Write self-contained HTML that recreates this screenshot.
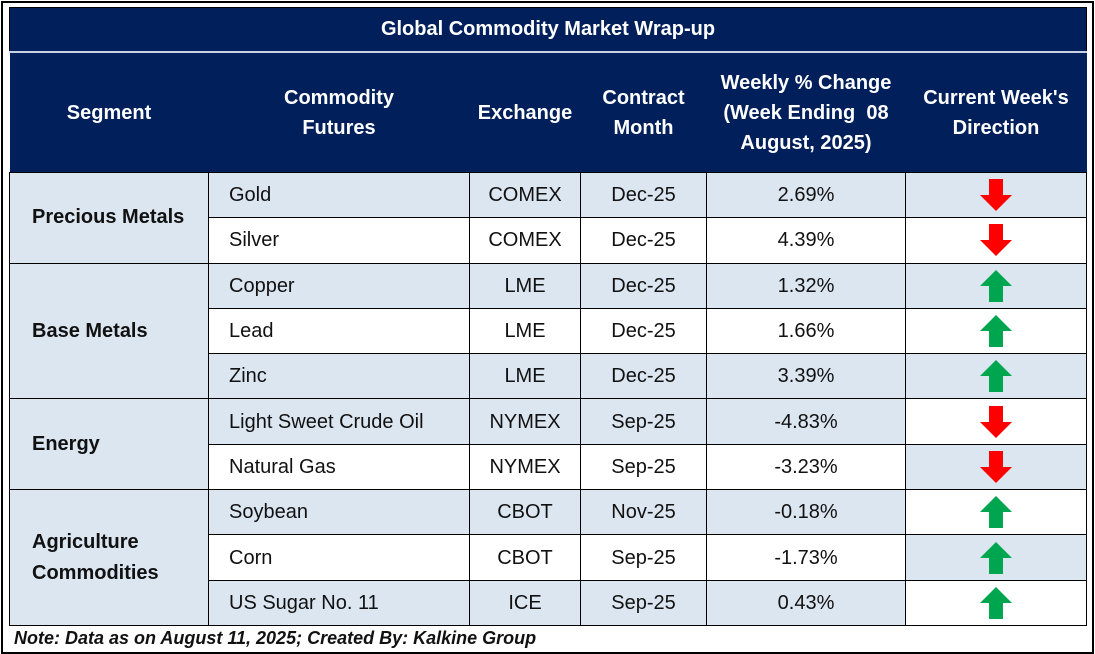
<!DOCTYPE html>
<html><head><style>
body{margin:0;width:1095px;height:654px;background:#fff;font-family:"Liberation Sans",sans-serif;position:relative;overflow:hidden}
.frame{position:absolute;left:1px;top:1px;width:1089px;height:649px;border:2px solid #000}
table{position:absolute;left:9px;top:7px;border-collapse:collapse;table-layout:fixed}
td{border:1.5px solid #000;font-size:20px;color:#111;text-align:center;padding:0;white-space:nowrap}
.t{background:#001f5b;color:#fff;font-weight:bold;height:43px;border-bottom:2px solid #c9d3e6;font-size:20px}
.h td{background:#001f5b;color:#fff;font-weight:bold;height:119px;line-height:30px;border:none}
.L{background:#dce6f1}.W{background:#fff}
.seg{background:#dce6f1;font-weight:bold;text-align:left;padding-left:22px;font-size:20px;line-height:31px}
.c{text-align:left;padding-left:20px}
tr.r td{height:44.3px;line-height:20px}
svg{vertical-align:middle}
.note{position:absolute;left:14px;top:628px;font-style:italic;font-weight:bold;font-size:18px;color:#111}
</style></head><body>
<div class="frame"></div>
<table>
<col style="width:199px"><col style="width:261px"><col style="width:111px"><col style="width:126px"><col style="width:199px"><col style="width:181px">
<tr><td colspan="6" class="t">Global Commodity Market Wrap-up</td></tr>
<tr class="h"><td>Segment</td><td>Commodity<br>Futures</td><td>Exchange</td><td>Contract<br>Month</td><td>Weekly % Change<br>(Week Ending&nbsp; 08<br>August, 2025)</td><td>Current Week's<br>Direction</td></tr>
<tr class="r L"><td rowspan="2" class="seg" style="line-height:31px">Precious Metals</td><td class="c">Gold</td><td>COMEX</td><td>Dec-25</td><td>2.69%</td><td><svg width="36" height="36" viewBox="0 0 36 36"><path d="M11 2h14v16h9L18 34 2 18h9z" fill="#f00"/></svg></td></tr>
<tr class="r W"><td class="c">Silver</td><td>COMEX</td><td>Dec-25</td><td>4.39%</td><td><svg width="36" height="36" viewBox="0 0 36 36"><path d="M11 2h14v16h9L18 34 2 18h9z" fill="#f00"/></svg></td></tr>
<tr class="r L"><td rowspan="3" class="seg">Base Metals</td><td class="c">Copper</td><td>LME</td><td>Dec-25</td><td>1.32%</td><td><svg width="36" height="36" viewBox="0 0 36 36"><path d="M11 34h14V18h9L18 2 2 18h9z" fill="#00a550"/></svg></td></tr>
<tr class="r W"><td class="c">Lead</td><td>LME</td><td>Dec-25</td><td>1.66%</td><td><svg width="36" height="36" viewBox="0 0 36 36"><path d="M11 34h14V18h9L18 2 2 18h9z" fill="#00a550"/></svg></td></tr>
<tr class="r L"><td class="c">Zinc</td><td>LME</td><td>Dec-25</td><td>3.39%</td><td><svg width="36" height="36" viewBox="0 0 36 36"><path d="M11 34h14V18h9L18 2 2 18h9z" fill="#00a550"/></svg></td></tr>
<tr class="r L"><td rowspan="2" class="seg">Energy</td><td class="c">Light Sweet Crude Oil</td><td>NYMEX</td><td>Sep-25</td><td>-4.83%</td><td class="W"><svg width="36" height="36" viewBox="0 0 36 36"><path d="M11 2h14v16h9L18 34 2 18h9z" fill="#f00"/></svg></td></tr>
<tr class="r W"><td class="c">Natural Gas</td><td>NYMEX</td><td>Sep-25</td><td>-3.23%</td><td class="L"><svg width="36" height="36" viewBox="0 0 36 36"><path d="M11 2h14v16h9L18 34 2 18h9z" fill="#f00"/></svg></td></tr>
<tr class="r L"><td rowspan="3" class="seg" style="line-height:31px">Agriculture<br>Commodities</td><td class="c">Soybean</td><td>CBOT</td><td>Nov-25</td><td>-0.18%</td><td class="W"><svg width="36" height="36" viewBox="0 0 36 36"><path d="M11 34h14V18h9L18 2 2 18h9z" fill="#00a550"/></svg></td></tr>
<tr class="r W"><td class="c">Corn</td><td>CBOT</td><td>Sep-25</td><td>-1.73%</td><td class="L"><svg width="36" height="36" viewBox="0 0 36 36"><path d="M11 34h14V18h9L18 2 2 18h9z" fill="#00a550"/></svg></td></tr>
<tr class="r L"><td class="c">US Sugar No. 11</td><td>ICE</td><td>Sep-25</td><td>0.43%</td><td class="W"><svg width="36" height="36" viewBox="0 0 36 36"><path d="M11 34h14V18h9L18 2 2 18h9z" fill="#00a550"/></svg></td></tr>
</table>
<div class="note">Note: Data as on August 11, 2025; Created By: Kalkine Group</div>
</body></html>
